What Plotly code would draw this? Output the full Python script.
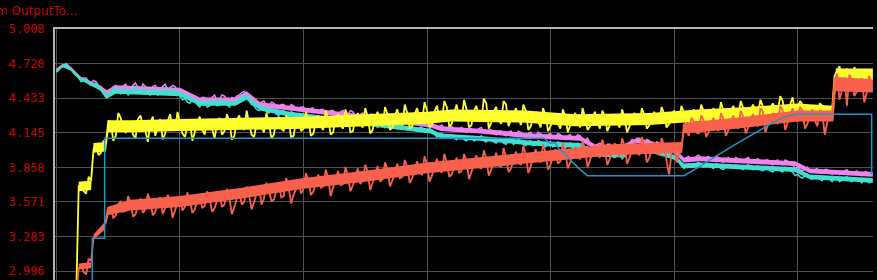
import plotly.graph_objects as go

# sample times (one reading every 2 time units)
sample_step = 2
n_samples = 331
t = [sample_step * i for i in range(n_samples)]

cyan_vals = [
    4.65, 4.67, 4.69, 4.70, 4.71, 4.69, 4.67, 4.64, 4.62, 4.60, 4.57, 4.58, 4.59, 4.56, 4.54, 4.55, 4.56, 4.53, 4.51, 4.47,
    4.44, 4.47, 4.48, 4.51, 4.52, 4.49, 4.47, 4.50, 4.51, 4.46, 4.48, 4.51, 4.53, 4.49, 4.47, 4.52, 4.50, 4.47, 4.46, 4.50,
    4.51, 4.46, 4.47, 4.50, 4.52, 4.47, 4.48, 4.51, 4.50, 4.47, 4.45, 4.42, 4.43, 4.40, 4.39, 4.42, 4.41, 4.38, 4.36, 4.40,
    4.40, 4.36, 4.37, 4.40, 4.42, 4.37, 4.38, 4.42, 4.41, 4.38, 4.36, 4.40, 4.39, 4.41, 4.42, 4.45, 4.46, 4.43, 4.41, 4.38,
    4.37, 4.34, 4.33, 4.35, 4.36, 4.32, 4.31, 4.34, 4.34, 4.30, 4.29, 4.32, 4.33, 4.30, 4.28, 4.32, 4.31, 4.28, 4.27, 4.30,
    4.30, 4.27, 4.26, 4.29, 4.29, 4.26, 4.25, 4.28, 4.28, 4.25, 4.24, 4.27, 4.27, 4.25, 4.23, 4.26, 4.27, 4.23, 4.24, 4.27,
    4.26, 4.22, 4.21, 4.24, 4.25, 4.22, 4.21, 4.24, 4.24, 4.21, 4.19, 4.22, 4.23, 4.19, 4.20, 4.23, 4.22, 4.20, 4.18, 4.21,
    4.21, 4.18, 4.17, 4.20, 4.20, 4.17, 4.16, 4.19, 4.19, 4.16, 4.15, 4.18, 4.17, 4.14, 4.11, 4.13, 4.14, 4.11, 4.10, 4.13,
    4.13, 4.10, 4.09, 4.11, 4.12, 4.09, 4.08, 4.10, 4.11, 4.08, 4.09, 4.11, 4.12, 4.08, 4.07, 4.10, 4.10, 4.07, 4.06, 4.09,
    4.09, 4.06, 4.05, 4.08, 4.09, 4.05, 4.06, 4.09, 4.08, 4.05, 4.04, 4.07, 4.08, 4.04, 4.05, 4.08, 4.07, 4.04, 4.03, 4.06,
    4.07, 4.03, 4.04, 4.07, 4.06, 4.03, 4.02, 4.05, 4.06, 4.02, 4.03, 4.06, 4.05, 4.02, 4.01, 4.03, 3.99, 3.96, 3.96, 3.98,
    3.99, 3.96, 3.95, 3.98, 3.98, 3.95, 3.94, 3.97, 3.97, 3.93, 3.95, 3.98, 3.99, 4.02, 4.01, 4.03, 4.04, 4.01, 4.00, 4.03,
    4.02, 3.99, 3.98, 4.01, 4.00, 3.97, 3.96, 3.99, 3.98, 3.95, 3.94, 3.92, 3.90, 3.87, 3.85, 3.88, 3.89, 3.86, 3.86, 3.89,
    3.90, 3.87, 3.86, 3.88, 3.89, 3.86, 3.85, 3.89, 3.88, 3.85, 3.84, 3.87, 3.88, 3.86, 3.85, 3.88, 3.87, 3.85, 3.84, 3.87,
    3.88, 3.85, 3.84, 3.86, 3.87, 3.84, 3.83, 3.86, 3.86, 3.83, 3.82, 3.85, 3.86, 3.83, 3.82, 3.86, 3.85, 3.83, 3.82, 3.79,
    3.80, 3.78, 3.77, 3.79, 3.80, 3.77, 3.76, 3.78, 3.79, 3.76, 3.75, 3.78, 3.78, 3.76, 3.74, 3.77, 3.77, 3.74, 3.75, 3.77,
    3.78, 3.75, 3.74, 3.76, 3.77, 3.75, 3.73, 3.76, 3.76, 3.73, 3.74,
]

magenta_vals = [
    4.66, 4.68, 4.70, 4.71, 4.72, 4.70, 4.68, 4.65, 4.63, 4.61, 4.59, 4.60, 4.60, 4.57, 4.56, 4.58, 4.57, 4.54, 4.53, 4.50,
    4.47, 4.50, 4.51, 4.53, 4.54, 4.51, 4.50, 4.53, 4.55, 4.49, 4.51, 4.54, 4.56, 4.52, 4.50, 4.55, 4.53, 4.50, 4.49, 4.53,
    4.54, 4.49, 4.50, 4.53, 4.55, 4.50, 4.52, 4.54, 4.53, 4.50, 4.49, 4.46, 4.47, 4.44, 4.43, 4.46, 4.45, 4.42, 4.40, 4.44,
    4.44, 4.40, 4.41, 4.44, 4.46, 4.41, 4.42, 4.46, 4.45, 4.42, 4.40, 4.44, 4.43, 4.45, 4.46, 4.48, 4.49, 4.47, 4.45, 4.42,
    4.41, 4.39, 4.38, 4.40, 4.41, 4.37, 4.36, 4.40, 4.39, 4.36, 4.35, 4.38, 4.38, 4.35, 4.34, 4.38, 4.37, 4.34, 4.33, 4.36,
    4.36, 4.33, 4.32, 4.35, 4.35, 4.32, 4.31, 4.34, 4.34, 4.31, 4.30, 4.33, 4.33, 4.30, 4.29, 4.32, 4.33, 4.29, 4.30, 4.33,
    4.32, 4.28, 4.27, 4.30, 4.31, 4.28, 4.27, 4.30, 4.30, 4.26, 4.25, 4.28, 4.29, 4.25, 4.26, 4.29, 4.28, 4.25, 4.24, 4.27,
    4.27, 4.24, 4.23, 4.26, 4.26, 4.23, 4.22, 4.25, 4.25, 4.22, 4.21, 4.24, 4.23, 4.20, 4.18, 4.20, 4.21, 4.18, 4.17, 4.20,
    4.20, 4.17, 4.16, 4.18, 4.19, 4.16, 4.15, 4.17, 4.18, 4.15, 4.16, 4.18, 4.19, 4.15, 4.14, 4.17, 4.17, 4.14, 4.13, 4.16,
    4.16, 4.13, 4.12, 4.15, 4.16, 4.12, 4.13, 4.16, 4.15, 4.12, 4.11, 4.14, 4.15, 4.11, 4.12, 4.15, 4.14, 4.11, 4.10, 4.13,
    4.14, 4.10, 4.11, 4.14, 4.13, 4.10, 4.09, 4.12, 4.13, 4.09, 4.10, 4.13, 4.12, 4.09, 4.08, 4.10, 4.06, 4.03, 4.03, 4.05,
    4.06, 4.03, 4.02, 4.05, 4.05, 4.02, 4.01, 4.04, 4.04, 4.00, 4.02, 4.05, 4.06, 4.09, 4.08, 4.10, 4.10, 4.08, 4.06, 4.09,
    4.08, 4.05, 4.04, 4.07, 4.06, 4.03, 4.02, 4.05, 4.04, 4.01, 4.00, 3.98, 3.96, 3.93, 3.91, 3.94, 3.95, 3.92, 3.92, 3.95,
    3.96, 3.93, 3.92, 3.94, 3.95, 3.92, 3.91, 3.95, 3.94, 3.91, 3.90, 3.93, 3.94, 3.92, 3.91, 3.94, 3.93, 3.91, 3.90, 3.93,
    3.94, 3.91, 3.90, 3.92, 3.93, 3.90, 3.89, 3.92, 3.92, 3.89, 3.88, 3.91, 3.92, 3.89, 3.88, 3.92, 3.91, 3.89, 3.88, 3.85,
    3.86, 3.84, 3.83, 3.85, 3.86, 3.83, 3.82, 3.84, 3.85, 3.82, 3.81, 3.84, 3.84, 3.82, 3.80, 3.83, 3.83, 3.80, 3.81, 3.83,
    3.84, 3.81, 3.80, 3.82, 3.83, 3.81, 3.79, 3.82, 3.82, 3.79, 3.80,
]

yellow_vals = [
    None, None, None, None, None, None, None, None, 2.80, 3.70, 3.72, 3.66, 3.64, 3.78, 3.75, 4.01, 4.05, 3.96, 3.98, 4.08,
    4.06, 4.25, 4.22, 4.08, 4.12, 4.31, 4.27, 4.17, 4.15, 4.21, 4.24, 4.13, 4.10, 4.26, 4.29, 4.19, 4.16, 4.07, 4.23, 4.28,
    4.12, 4.20, 4.26, 4.09, 4.14, 4.24, 4.30, 4.18, 4.17, 4.32, 4.22, 4.14, 4.11, 4.20, 4.25, 4.08, 4.15, 4.23, 4.28, 4.17,
    4.13, 4.26, 4.21, 4.18, 4.10, 4.22, 4.27, 4.13, 4.16, 4.30, 4.24, 4.09, 4.12, 4.25, 4.29, 4.20, 4.17, 4.33, 4.22, 4.13,
    4.11, 4.22, 4.26, 4.19, 4.15, 4.31, 4.23, 4.10, 4.13, 4.25, 4.28, 4.18, 4.16, 4.29, 4.24, 4.11, 4.12, 4.24, 4.27, 4.16,
    4.18, 4.32, 4.25, 4.12, 4.14, 4.24, 4.29, 4.20, 4.17, 4.33, 4.26, 4.13, 4.15, 4.27, 4.30, 4.21, 4.18, 4.34, 4.27, 4.15,
    4.16, 4.26, 4.31, 4.22, 4.19, 4.35, 4.28, 4.14, 4.17, 4.28, 4.32, 4.23, 4.20, 4.36, 4.30, 4.17, 4.19, 4.29, 4.34, 4.24,
    4.21, 4.38, 4.31, 4.18, 4.20, 4.30, 4.35, 4.26, 4.23, 4.40, 4.33, 4.19, 4.21, 4.32, 4.37, 4.27, 4.24, 4.41, 4.36, 4.20,
    4.22, 4.31, 4.38, 4.27, 4.25, 4.42, 4.34, 4.19, 4.21, 4.33, 4.37, 4.28, 4.24, 4.43, 4.39, 4.18, 4.23, 4.32, 4.36, 4.26,
    4.22, 4.41, 4.38, 4.20, 4.25, 4.30, 4.35, 4.27, 4.21, 4.38, 4.33, 4.17, 4.20, 4.29, 4.31, 4.24, 4.19, 4.35, 4.29, 4.16,
    4.20, 4.26, 4.30, 4.22, 4.18, 4.34, 4.28, 4.15, 4.21, 4.27, 4.31, 4.24, 4.19, 4.35, 4.27, 4.17, 4.20, 4.28, 4.32, 4.23,
    4.18, 4.33, 4.28, 4.16, 4.21, 4.26, 4.30, 4.23, 4.19, 4.34, 4.27, 4.15, 4.20, 4.27, 4.31, 4.24, 4.22, 4.35, 4.29, 4.18,
    4.21, 4.27, 4.32, 4.25, 4.23, 4.36, 4.30, 4.19, 4.22, 4.29, 4.33, 4.26, 4.24, 4.37, 4.31, 4.20, 4.23, 4.30, 4.34, 4.27,
    4.25, 4.38, 4.32, 4.22, 4.26, 4.31, 4.35, 4.29, 4.27, 4.40, 4.33, 4.23, 4.28, 4.33, 4.37, 4.30, 4.29, 4.41, 4.35, 4.25,
    4.30, 4.34, 4.38, 4.33, 4.31, 4.42, 4.36, 4.26, 4.30, 4.35, 4.39, 4.34, 4.32, 4.45, 4.41, 4.28, 4.33, 4.38, 4.44, 4.31,
    4.34, 4.41, 4.38, 4.27, 4.29, 4.35, 4.36, 4.31, 4.28, 4.39, 4.37, 4.26, 4.30, 4.33, 4.34, 4.62, 4.66, 4.70, 4.58, 4.63,
    4.68, 4.57, 4.60, 4.69, 4.66, 4.62, 4.59, 4.64, 4.67, 4.58, 4.61,
]

red_vals = [
    None, None, None, None, None, None, None, None, 2.80, 3.02, 3.05, 2.99, 2.97, 3.10, 3.08, 3.27, 3.29, 3.31, 3.35, 3.38,
    3.40, 3.50, 3.52, 3.44, 3.46, 3.55, 3.58, 3.49, 3.50, 3.62, 3.56, 3.45, 3.47, 3.54, 3.60, 3.48, 3.51, 3.64, 3.57, 3.46,
    3.49, 3.56, 3.61, 3.47, 3.52, 3.63, 3.58, 3.44, 3.50, 3.57, 3.62, 3.50, 3.53, 3.65, 3.59, 3.48, 3.51, 3.58, 3.63, 3.52,
    3.54, 3.66, 3.60, 3.49, 3.52, 3.58, 3.64, 3.53, 3.55, 3.68, 3.61, 3.47, 3.53, 3.60, 3.66, 3.55, 3.57, 3.70, 3.63, 3.51,
    3.57, 3.64, 3.70, 3.55, 3.60, 3.73, 3.67, 3.58, 3.59, 3.66, 3.72, 3.61, 3.62, 3.77, 3.69, 3.56, 3.63, 3.68, 3.76, 3.64,
    3.68, 3.81, 3.75, 3.63, 3.66, 3.72, 3.80, 3.69, 3.70, 3.84, 3.77, 3.62, 3.69, 3.76, 3.83, 3.71, 3.72, 3.86, 3.79, 3.66,
    3.71, 3.78, 3.85, 3.72, 3.75, 3.88, 3.82, 3.67, 3.73, 3.80, 3.87, 3.74, 3.76, 3.90, 3.84, 3.70, 3.75, 3.81, 3.89, 3.77,
    3.78, 3.92, 3.86, 3.73, 3.77, 3.84, 3.91, 3.81, 3.80, 3.95, 3.88, 3.74, 3.79, 3.86, 3.93, 3.83, 3.82, 3.97, 3.90, 3.78,
    3.80, 3.87, 3.94, 3.81, 3.83, 3.97, 3.91, 3.76, 3.82, 3.89, 3.96, 3.86, 3.85, 4.00, 3.93, 3.79, 3.84, 3.91, 3.98, 3.88,
    3.86, 4.02, 3.94, 3.82, 3.85, 3.92, 3.99, 3.90, 3.88, 4.04, 3.96, 3.81, 3.87, 3.94, 4.01, 3.92, 3.90, 4.05, 3.98, 3.84,
    3.88, 3.95, 4.01, 3.89, 3.91, 4.06, 3.98, 3.85, 3.90, 3.97, 4.03, 3.94, 3.93, 4.08, 4.00, 3.86, 3.92, 3.98, 4.05, 3.96,
    3.94, 4.09, 4.01, 3.88, 3.93, 3.99, 4.06, 3.97, 3.95, 4.10, 4.03, 3.89, 3.94, 4.00, 4.07, 3.98, 3.96, 4.11, 4.04, 3.90,
    3.94, 4.01, 4.07, 3.99, 3.96, 4.10, 4.04, 3.91, 3.80, 3.98, 4.06, 3.90, 3.97, 3.99, 4.22, 4.18, 4.12, 4.27, 4.24, 4.15,
    4.14, 4.29, 4.25, 4.11, 4.15, 4.22, 4.27, 4.19, 4.16, 4.31, 4.26, 4.12, 4.17, 4.24, 4.29, 4.21, 4.18, 4.33, 4.28, 4.14,
    4.19, 4.26, 4.30, 4.22, 4.20, 4.35, 4.32, 4.15, 4.21, 4.27, 4.31, 4.24, 4.22, 4.37, 4.33, 4.17, 4.23, 4.29, 4.35, 4.26,
    4.24, 4.36, 4.33, 4.18, 4.22, 4.29, 4.34, 4.25, 4.20, 4.33, 4.32, 4.13, 4.23, 4.27, 4.31, 4.58, 4.64, 4.42, 4.50, 4.61,
    4.37, 4.63, 4.58, 4.45, 4.49, 4.56, 4.60, 4.40, 4.48, 4.62, 4.55,
]

# dense core of each noisy trace (lower / upper edge)
cyan_band_t = [0, 5, 12, 20, 35, 41, 48, 100, 116, 145, 154, 165, 189, 230, 262, 303,
               311, 343, 384, 424, 436, 457, 470, 481, 501, 508, 521, 562, 598, 610, 643, 661]
cyan_lo = [4.65, 4.69, 4.66, 4.58, 4.50, 4.43, 4.47, 4.45, 4.37, 4.37, 4.42, 4.33, 4.28, 4.23,
           4.19, 4.14, 4.10, 4.08, 4.04, 4.02, 3.95, 3.94, 4.00, 3.98, 3.92, 3.85, 3.86, 3.84,
           3.82, 3.76, 3.74, 3.73]
cyan_hi = [4.67, 4.71, 4.68, 4.60, 4.53, 4.47, 4.51, 4.49, 4.41, 4.41, 4.46, 4.37, 4.32, 4.27,
           4.23, 4.18, 4.14, 4.12, 4.08, 4.06, 3.99, 3.98, 4.04, 4.02, 3.96, 3.89, 3.90, 3.88,
           3.86, 3.80, 3.78, 3.77]
magenta_lo = [4.66, 4.70, 4.67, 4.59, 4.51, 4.46, 4.50, 4.48, 4.40, 4.40, 4.45, 4.36, 4.33, 4.28,
              4.24, 4.19, 4.16, 4.14, 4.10, 4.08, 4.01, 4.00, 4.06, 4.04, 3.97, 3.90, 3.91, 3.89,
              3.87, 3.81, 3.79, 3.78]
magenta_hi = [4.68, 4.72, 4.69, 4.61, 4.54, 4.50, 4.54, 4.52, 4.44, 4.44, 4.49, 4.40, 4.37, 4.32,
              4.28, 4.23, 4.20, 4.18, 4.14, 4.12, 4.05, 4.04, 4.10, 4.08, 4.01, 3.94, 3.95, 3.93,
              3.91, 3.85, 3.83, 3.82]

yellow_band_t = [18, 28, 30, 40, 42, 60, 100, 150, 200, 250, 300, 320, 380, 420, 480, 520,
                 560, 600, 629, 631, 661]
yellow_lo = [3.66, 3.67, 3.98, 3.99, 4.15, 4.15, 4.16, 4.17, 4.18, 4.20, 4.22, 4.24, 4.23, 4.20,
             4.21, 4.24, 4.26, 4.29, 4.27, 4.58, 4.58]
yellow_hi = [3.74, 3.75, 4.06, 4.07, 4.25, 4.25, 4.26, 4.27, 4.28, 4.30, 4.32, 4.34, 4.33, 4.30,
             4.31, 4.34, 4.36, 4.39, 4.37, 4.68, 4.68]

red_band_t = [18, 28, 30, 39, 41, 60, 100, 150, 200, 250, 300, 350, 400, 450, 506, 508, 550,
              600, 629, 631, 661]
red_lo = [3.01, 3.02, 3.26, 3.34, 3.46, 3.50, 3.53, 3.60, 3.68, 3.74, 3.81, 3.86, 3.91, 3.96,
          3.98, 4.14, 4.18, 4.24, 4.24, 4.49, 4.48]
red_hi = [3.06, 3.07, 3.30, 3.40, 3.53, 3.59, 3.62, 3.69, 3.77, 3.83, 3.90, 3.95, 4.00, 4.05,
          4.07, 4.23, 4.27, 4.33, 4.33, 4.61, 4.59]

# stepped setpoint line (time, value)
blue_t = [29, 29, 39, 39, 395, 399, 404, 407, 412, 418, 424, 430, 508,
          520, 532, 545, 558, 570, 580, 590, 598, 660, 660]
blue_vals = [2.85, 3.27, 3.27, 4.10, 4.10, 4.06, 4.06, 4.01, 3.97, 3.90, 3.84,
             3.79, 3.79, 3.86, 3.94, 4.02, 4.10, 4.17, 4.23, 4.28, 4.30, 4.30, 3.80]

y_ticks = [2.996, 3.283, 3.571, 3.858, 4.145, 4.433, 4.720, 5.008]
title_text = "m OutputTo..."

MAGENTA = "rgb(238,130,238)"
CYAN = "rgb(64,224,208)"
YELLOW = "rgb(255,255,45)"
RED = "rgb(250,97,76)"
BLUE = "rgb(30,150,205)"

fig = go.Figure()


def add_noisy(band_t, lo, hi, vals, col, lw):
    fig.add_trace(go.Scatter(x=band_t, y=lo, mode="lines", line=dict(width=0, color=col),
                             showlegend=False, hoverinfo="skip"))
    fig.add_trace(go.Scatter(x=band_t, y=hi, mode="lines", line=dict(width=0, color=col),
                             fill="tonexty", fillcolor=col,
                             showlegend=False, hoverinfo="skip"))
    fig.add_trace(go.Scatter(x=t, y=vals, mode="lines",
                             line=dict(color=col, width=lw, simplify=False),
                             connectgaps=False, showlegend=False, hoverinfo="skip"))


add_noisy(cyan_band_t, magenta_lo, magenta_hi, magenta_vals, MAGENTA, 1.5)
add_noisy(cyan_band_t, cyan_lo, cyan_hi, cyan_vals, CYAN, 1.5)
add_noisy(yellow_band_t, yellow_lo, yellow_hi, yellow_vals, YELLOW, 1.8)
add_noisy(red_band_t, red_lo, red_hi, red_vals, RED, 1.8)
fig.add_trace(go.Scatter(x=blue_t, y=blue_vals, mode="lines",
                         line=dict(color=BLUE, width=1.5, simplify=False),
                         showlegend=False, hoverinfo="skip"))

grid = "#525252"
fig.update_layout(
    width=877, height=280,
    margin=dict(l=55, r=4, t=29, b=0, pad=0),
    paper_bgcolor="black", plot_bgcolor="black",
    showlegend=False,
    xaxis=dict(range=[-1.2, 661.1], tick0=0, dtick=100, showgrid=True,
               gridcolor=grid, gridwidth=1, zeroline=False,
               showticklabels=False, ticks="", side="top",
               showline=True, linecolor="#b4b4b4", linewidth=2),
    yaxis=dict(range=[2.923, 5.008], tickvals=y_ticks,
               ticktext=[f"{v:.3f}" for v in y_ticks],
               showgrid=True, gridcolor=grid, gridwidth=1, zeroline=False,
               ticks="", ticklabelstandoff=6,
               tickfont=dict(family="DejaVu Sans Mono", size=12, color="#cc0000"),
               showline=True, linecolor="#b4b4b4", linewidth=2),
    annotations=[dict(text=title_text, xref="paper", yref="paper",
                      x=-61 / 818, y=1 + 18 / 251, xanchor="left", yanchor="middle",
                      showarrow=False,
                      font=dict(family="DejaVu Sans", size=12, color="#cc0000"))],
)

fig.write_html("out.html")
